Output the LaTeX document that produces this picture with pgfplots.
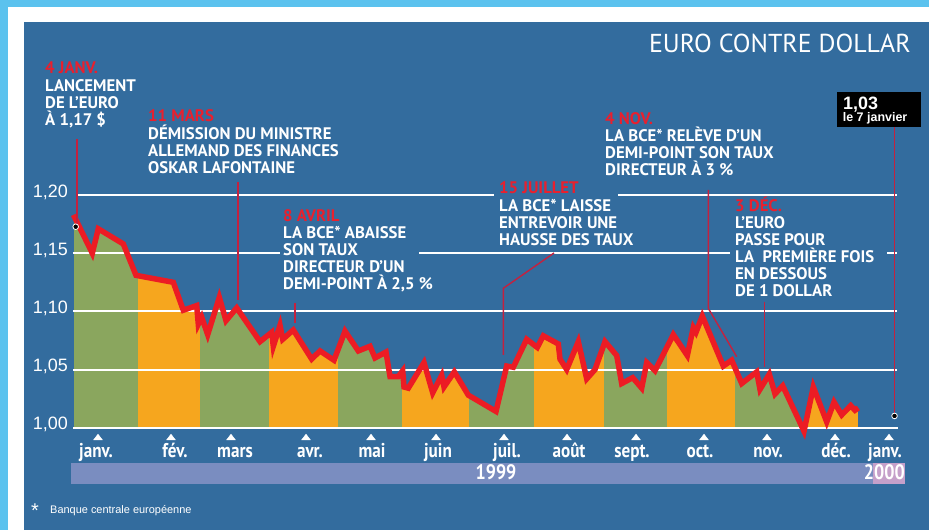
\documentclass[border=0pt]{standalone}
\usepackage{pgfplots}
\pgfplotsset{compat=1.18}
\usepackage{pgfplotstable}
\usepackage{fontspec}
\setmainfont{PT Sans}
\newfontfamily\cond[FakeStretch=0.86]{PT Sans}
\newfontfamily\lib{Liberation Sans}
\definecolor{bg}{HTML}{336C9E}
\definecolor{lblue}{HTML}{5BC2EE}
\definecolor{grn}{HTML}{8AA65E}
\definecolor{org}{HTML}{F6A61E}
\definecolor{redl}{HTML}{EC1C24}
\definecolor{lead}{HTML}{C4213F}
\definecolor{band}{HTML}{7A8DC0}
\definecolor{pinkc}{HTML}{C5A0CA}
\definecolor{datered}{HTML}{E8202E}

\pgfplotstableread{
x y
73.5 1.183
92.3 1.150
98.3 1.171
123.3 1.158
136.0 1.131
173.3 1.125
183.3 1.101
196.7 1.105
198.3 1.089
201.7 1.095
207.7 1.080
219.3 1.112
226.0 1.092
236.7 1.103
260.0 1.074
271.7 1.082
273.3 1.070
280.0 1.088
282.7 1.076
293.3 1.084
311.7 1.059
320.0 1.066
334.0 1.058
345.0 1.083
358.3 1.066
370.0 1.070
375.0 1.060
386.0 1.065
390.0 1.044
398.3 1.044
402.7 1.049
404.0 1.035
408.3 1.034
424.0 1.056
432.7 1.030
441.7 1.045
444.0 1.035
454.3 1.048
468.3 1.028
496.0 1.014
506.7 1.053
513.3 1.052
526.7 1.076
537.3 1.069
543.3 1.079
558.3 1.072
560.0 1.059
566.7 1.050
578.3 1.074
586.7 1.042
595.0 1.050
605.0 1.074
616.7 1.062
621.7 1.038
632.7 1.043
641.7 1.034
646.7 1.056
655.0 1.049
673.3 1.080
687.3 1.062
693.3 1.086
696.0 1.082
702.3 1.096
723.3 1.053
731.7 1.058
741.7 1.038
756.7 1.048
760.0 1.033
769.3 1.046
775.0 1.029
782.7 1.036
804.0 0.997
813.3 1.035
826.7 1.005
834.0 1.022
841.7 1.011
850.7 1.019
855.0 1.015
858.3 1.017
}\eurodata

\newcommand\annfont{\fontsize{16.8}{17}\selectfont\bfseries}
\newcommand\aw[3]{\node[anchor=base west, inner sep=0pt, text=white, font=\annfont] at (#1,#2) {#3};}
\newcommand\ar[3]{\node[anchor=base west, inner sep=0pt, text=datered, font=\annfont] at (#1,#2) {#3};}
\newcommand\mrect[3]{\addplot[fill=#1, draw=none, forget plot] coordinates {(#2,1) (#2,1.2) (#3,1.2) (#3,1)} -- cycle;}
\newcommand\gl[3]{\draw[white, line width=2bp] (axis cs:#1,#3) -- (axis cs:#2,#3);}

\begin{document}
\begin{tikzpicture}
\fill[lblue] (0,0) rectangle (929bp,530bp);
\fill[white] (8bp,0) rectangle (929bp,523bp);
\fill[bg] (24bp,0) rectangle (929bp,508bp);
\fill[band] (71bp,46bp) rectangle (905bp,67bp);
\fill[pinkc] (873bp,46bp) rectangle (905bp,67bp);
\begin{axis}[at={(0,0)}, anchor=south west, scale only axis,
  width=929bp, height=530bp,
  xmin=0, xmax=929, ymin=0.91204, ymax=1.36775,
  clip=false, axis line style={draw=none},
  major tick length=0pt, tick style={draw=none},
  xtick={96,175,235,310,372,438,507,569,632,700,768,836,885},
  xticklabels={janv.,fév.,mars,avr.,mai,juin,juil.,août,sept.,oct.,nov.,déc.,janv.},
  ytick={1,1.05,1.1,1.15,1.2},
  yticklabels={{1,00},{1,05},{1,10},{1,15},{1,20}},
  xticklabel style={anchor=base, inner sep=0pt, yshift=72bp, text=white,
    font={\fontsize{20}{20}\cond\bfseries}},
  yticklabel style={anchor=base east, inner sep=0pt, xshift=68bp, yshift=-2bp, text=white,
    font={\fontsize{18}{18}\lib}},
]
\mrect{grn}{73.5}{138}
\mrect{org}{138}{200}
\mrect{grn}{200}{269}
\mrect{org}{269}{338}
\mrect{grn}{338}{402}
\mrect{org}{402}{469}
\mrect{grn}{469}{534}
\mrect{org}{534}{604}
\mrect{grn}{604}{667}
\mrect{org}{667}{735}
\mrect{grn}{735}{806}
\mrect{org}{806}{858.3}
\addplot[fill=bg, draw=none, forget plot] table {\eurodata} -- (axis cs:858.3,1.21) -- (axis cs:73.5,1.21) -- cycle;
\gl{77}{494}{1.2}
\gl{618}{897}{1.2}
\gl{73}{280}{1.15}
\gl{419}{730}{1.15}
\gl{887}{897}{1.15}
\gl{73}{897}{1.1}
\gl{73}{897}{1.05}
\gl{73}{898}{1.0}
\addplot[redl, line width=5.5bp, line join=miter, forget plot] table {\eurodata};
\addplot[only marks, mark=triangle*, mark size=5bp, white, mark options={yscale=0.75}, forget plot]
  coordinates {(98,0.9912) (171,0.9912) (231,0.9912) (306,0.9912) (371,0.9912) (436,0.9912) (504,0.9912) (567,0.9912) (636,0.9912) (704,0.9912) (767,0.9912) (835,0.9912) (889,0.9912)};
\end{axis}
\begin{scope}[x=1bp, y=-1bp, shift={(0bp,530bp)}]
% leaders
\draw[lead, line width=1.4bp] (77,139) -- (77,224);
\draw[lead, line width=1.4bp] (238,182) -- (238,300);
\draw[lead, line width=1.4bp] (295,303) -- (295,323);
\draw[lead, line width=1.4bp] (554,253) -- (503.3,288.3) -- (503.3,355);
\draw[lead, line width=1.4bp] (708.3,190) -- (708.3,308.3) -- (736.7,356.7);
\draw[lead, line width=1.4bp] (764.3,301.7) -- (764.3,366.7);
\draw[lead, line width=1.4bp] (894.5,127) -- (894.5,413);
% annotations
\ar{45}{74}{4 JANV.}
\aw{45}{91.5}{LANCEMENT}
\aw{45}{108.5}{DE L'EURO}
\aw{45}{125.5}{À 1,17 \$}
\ar{148}{122}{11 MARS}
\aw{148}{139.5}{DÉMISSION DU MINISTRE}
\aw{148}{157}{ALLEMAND DES FINANCES}
\aw{148}{174}{OSKAR LAFONTAINE}
\ar{283}{221.5}{8 AVRIL}
\aw{283}{238.5}{LA BCE* ABAISSE}
\aw{283}{255.5}{SON TAUX}
\aw{283}{272.5}{DIRECTEUR D'UN}
\aw{283}{289.5}{DEMI-POINT À 2,5 \%}
\ar{499}{194}{15 JUILLET}
\aw{499}{211.5}{LA BCE* LAISSE}
\aw{499}{228.5}{ENTREVOIR UNE}
\aw{499}{245.5}{HAUSSE DES TAUX}
\ar{605}{125}{4 NOV.}
\aw{605}{142}{LA BCE* RELÈVE D'UN}
\aw{605}{159}{DEMI-POINT SON TAUX}
\aw{605}{176}{DIRECTEUR À 3 \%}
\ar{735}{212}{3 DÉC.}
\aw{735}{229}{L'EURO}
\aw{735}{246}{PASSE POUR}
\aw{735}{263}{LA\ \ PREMIÈRE FOIS}
\aw{735}{280}{EN DESSOUS}
\aw{735}{297}{DE 1 DOLLAR}
% title
\node[anchor=base east, inner sep=0pt, text=white, font={\fontsize{26}{26}\selectfont}] at (911,52.7) {EURO CONTRE DOLLAR};
% box
\fill[black] (837.3,91.7) rectangle (920.7,126.7);
\node[anchor=base west, inner sep=0pt, text=white, font={\fontsize{18}{18}\lib\bfseries}] at (843,109.3) {1,03};
\node[anchor=base west, inner sep=0pt, text=white, font={\fontsize{12.5}{13}\lib\bfseries}] at (842.7,121.7) {le 7 janvier};
% year band
\node[anchor=base, inner sep=0pt, text=white, font={\fontsize{21}{21}\cond\bfseries}] at (496,480) {1999};
\node[anchor=base east, inner sep=0pt, text=white, font={\fontsize{21}{21}\cond\bfseries}] at (905,480) {2000};
% footnote
\node[anchor=base west, inner sep=0pt, text=white, font={\fontsize{20}{20}\lib}] at (31,518) {*};
\node[anchor=base west, inner sep=0pt, text=white, font={\fontsize{11}{11}\lib}] at (50,514) {Banque centrale européenne};
\end{scope}
\begin{axis}[at={(0,0)}, anchor=south west, scale only axis,
  width=929bp, height=530bp, hide axis,
  xmin=0, xmax=929, ymin=0.91204, ymax=1.36775, clip=false]
\addplot[only marks, mark=*, mark size=2.8bp, black, mark options={draw=white, line width=0.8bp}]
  coordinates {(75.7,1.1728) (894.5,1.0101)};
\end{axis}
\end{tikzpicture}
\end{document}
